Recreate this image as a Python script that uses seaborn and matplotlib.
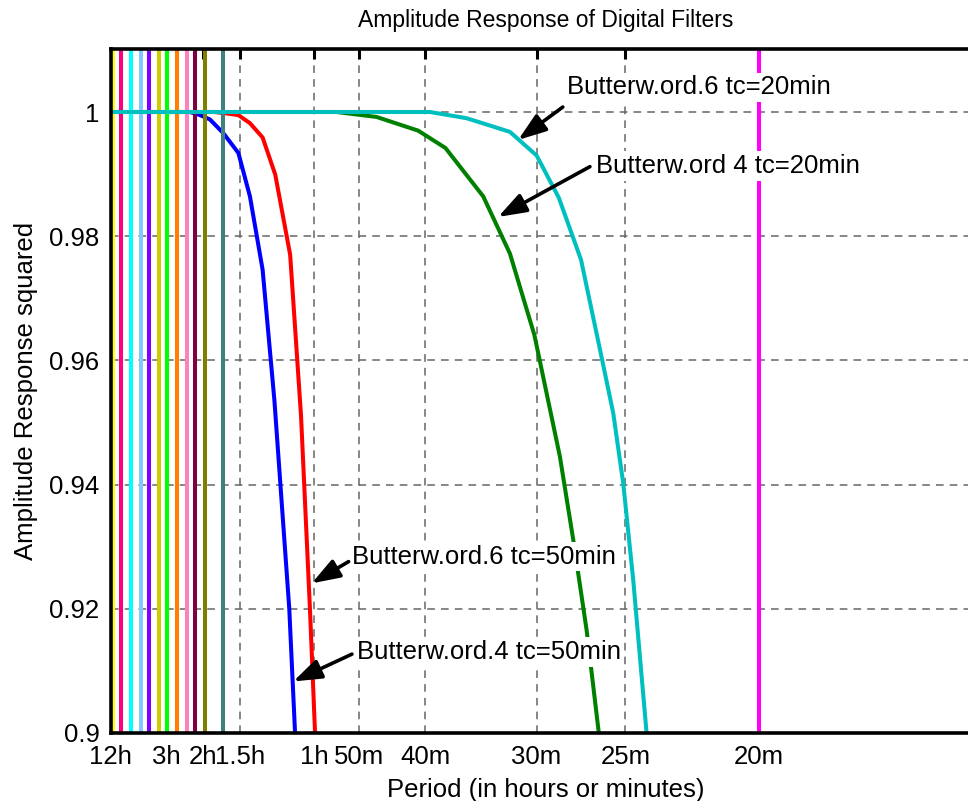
import numpy as np
import pandas as pd
import matplotlib
matplotlib.use("Agg")
import matplotlib.pyplot as plt
import seaborn as sns

# Frequency axis is in cycles per hour; tick labels show the matching period.
tick_periods_h = [12, 3, 2, 1.5, 1, 50 / 60, 40 / 60, 30 / 60, 25 / 60, 20 / 60]
tick_labels = ["12h", "3h", "2h", "1.5h", "1h", "50m", "40m", "30m", "25m", "20m"]

y_ticks = [0.90, 0.92, 0.94, 0.96, 0.98, 1.00]
y_tick_labels = ["0.9", "0.92", "0.94", "0.96", "0.98", "1"]

# Squared amplitude responses (frequency in cph, response squared)
bw4_50_freq = [1 / 12, 0.44, 0.485, 0.53, 0.59, 0.658, 0.71, 0.767, 0.82, 0.887, 0.913]
bw4_50_resp = [1.0, 1.0, 0.9995, 0.9988, 0.9966, 0.9934, 0.9864, 0.9746, 0.9536, 0.92, 0.9]

bw6_50_freq = [1 / 12, 0.55, 0.598, 0.658, 0.71, 0.767, 0.824, 0.891, 0.94, 0.98, 1.003]
bw6_50_resp = [1.0, 1.0, 0.9998, 0.9995, 0.9982, 0.9959, 0.9899, 0.977, 0.951, 0.92, 0.9]

bw4_20_freq = [1 / 12, 1.1, 1.28, 1.467, 1.59, 1.76, 1.88, 1.99, 2.105, 2.165, 2.225, 2.28]
bw4_20_resp = [1.0, 1.0, 0.9992, 0.997, 0.9942, 0.9864, 0.9772, 0.9641, 0.9445, 0.9311, 0.9166, 0.9]

bw6_20_freq = [1 / 12, 1.52, 1.685, 1.88, 2.0, 2.1, 2.2, 2.292, 2.345, 2.39, 2.435, 2.495]
bw6_20_resp = [1.0, 1.0, 0.999, 0.9968, 0.993, 0.9862, 0.9762, 0.9606, 0.9515, 0.9402, 0.9246, 0.9]

# Marker frequencies (cph) drawn as coloured vertical lines
marker_freqs = [0.0927, 0.130, 0.175, 0.220, 0.256, 0.301, 0.337, 0.382, 0.427, 0.463, 0.508, 0.589]
marker_colors = ["#FFFF00", "#FF0080", "#00FFFF", "#80C8FF", "#8000FF", "#CCCC00",
                 "#00FF00", "#FF8000", "#FF80C0", "#800040", "#808000", "#408080"]
cutoff_freq = 3.0  # 20 min

# Annotations: label, arrow tip (freq, resp), arrow tail, text anchor
ann_labels = ["Butterw.ord.6 tc=20min", "Butterw.ord 4 tc=20min",
              "Butterw.ord.6 tc=50min", "Butterw.ord.4 tc=50min"]
ann_tips = [(1.917, 0.9955), (1.827, 0.9831), (0.988, 0.9241), (0.905, 0.9083)]
ann_tails = [(2.118, 1.0008), (2.24, 0.9912), (1.154, 0.9276), (1.169, 0.9127)]
ann_text = [(2.136, 1.00395), (2.267, 0.9913), (1.169, 0.9284), (1.192, 0.9130)]

sns.set_theme(style="white")
plt.rcParams["font.family"] = ["Liberation Sans", "DejaVu Sans"]
for key in ["text.color", "axes.labelcolor", "xtick.color", "ytick.color"]:
    plt.rcParams[key] = "black"

fig = plt.figure(figsize=(9.68, 8.01), dpi=100)
W, H = 968, 801
ax = fig.add_axes([110.7 / W, (H - 733) / H, (981 - 110.7) / W, (733 - 49) / H])
ax.set_facecolor("white")

# Filter curves
series = [
    ("bw4_50", bw4_50_freq, bw4_50_resp, "#0000FF", 2.0),
    ("bw6_50", bw6_50_freq, bw6_50_resp, "#FF0000", 2.0),
    ("bw4_20", bw4_20_freq, bw4_20_resp, "#008000", 2.0),
    ("bw6_20", bw6_20_freq, bw6_20_resp, "#00BFBF", 4.0),
]
for name, f, r, col, z in series:
    df = pd.DataFrame({"freq": f, "resp": r})
    sns.lineplot(data=df, x="freq", y="resp", color=col, linewidth=2.9,
                 sort=False, estimator=None, ax=ax, zorder=z)

for fq, col in zip(marker_freqs, marker_colors):
    ax.axvline(fq, color=col, linewidth=2.9, zorder=3)
ax.axvline(cutoff_freq, color="#FF00FF", linewidth=2.9, zorder=3)

ax.set_xlim(1 / 12, 4.0)
ax.set_ylim(0.9, 1.0 + 63 / 6210)

ax.set_xticks([1 / p for p in tick_periods_h])
ax.set_xticklabels(tick_labels)
ax.set_yticks(y_ticks)
ax.set_yticklabels(y_tick_labels)

ax.grid(True, color="#666666", linestyle=(0, (5, 4)), linewidth=1.1, zorder=0)
ax.set_axisbelow(True)
# the 12h/3h/2h grid lines sit beneath the marker lines
for gl in ax.get_xgridlines()[:3]:
    gl.set_visible(False)

for side in ["left", "bottom", "top"]:
    ax.spines[side].set_color("black")
    ax.spines[side].set_linewidth(2.6)
    ax.spines[side].set_zorder(6)
ax.spines["right"].set_visible(False)

ax.tick_params(axis="both", which="both", direction="in", length=7, width=2.2,
               color="black", labelcolor="black", labelsize=18.5, top=True,
               right=False, pad=9)
ax.tick_params(axis="y", pad=8)

ax.set_xlabel("Period (in hours or minutes)", fontsize=18.5, labelpad=6, color="black")
ax.set_ylabel("Amplitude Response squared", fontsize=18.5, labelpad=8, color="black")
ax.set_title("Amplitude Response of Digital Filters", fontsize=16.5, pad=16, color="black")

for lab, tip, tail, pos in zip(ann_labels, ann_tips, ann_tails, ann_text):
    ax.annotate("", xy=tip, xytext=tail,
                arrowprops=dict(arrowstyle="-|>,head_length=0.85,head_width=0.3",
                                color="black", lw=2.6, shrinkA=0, shrinkB=0,
                                mutation_scale=20),
                zorder=8)
    ax.text(pos[0], pos[1], lab, ha="left", va="center", fontsize=18.5,
            color="black", zorder=7,
            bbox=dict(facecolor="white", edgecolor="none", pad=2))

fig.savefig("out.png", dpi=100, facecolor="white")
